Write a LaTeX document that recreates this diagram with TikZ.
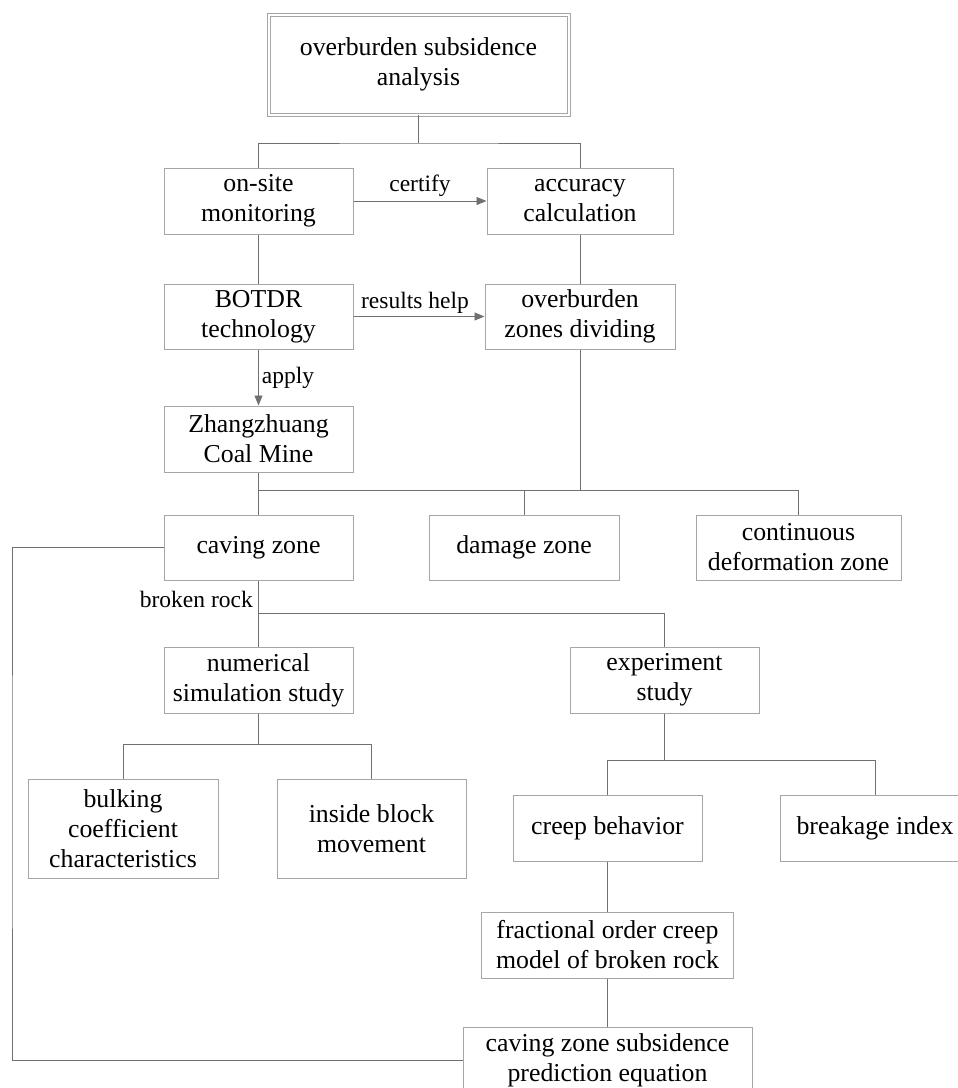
\documentclass[tikz,border=0pt]{standalone}
\usepackage{fontspec}
\setmainfont{Liberation Serif}
\usepackage{tikz}
\usetikzlibrary{positioning,calc,arrows.meta}

\definecolor{boxgray}{HTML}{A6A6A6}
\definecolor{linegray}{HTML}{707070}

\begin{document}
\begin{tikzpicture}[x=1pt,y=-1pt,
    box/.style={draw=boxgray,line width=1pt,minimum width=189,minimum height=66,inner sep=2pt,align=center,font=\fontsize{25.8}{30}\selectfont},
    link/.style={draw=linegray,line width=0.9pt},
    arr/.style={link,-{Triangle[length=10pt,width=8pt]}},
    tag/.style={inner sep=2pt,font=\fontsize{23.5}{28}\selectfont}]

   \useasboundingbox (0,0) rectangle (958,1088);

   \node[box,double=white,double distance=2pt,minimum width=300,minimum height=100] at (418.5,64.5) (top) {overburden subsidence\\analysis};

   \node[box] at (258.5,201) (onsite) {on-site\\monitoring};
   \node[box,minimum width=186] at (580,201) (accuracy) {accuracy\\calculation};
   \node[box,minimum height=65] at (258.5,316.5) (botdr) {BOTDR\\technology};
   \node[box,minimum width=190,minimum height=65] at (580,316.5) (zones) {overburden\\zones dividing};
   \node[box] at (258.5,439) (mine) {Zhangzhuang\\Coal Mine};

   \node[box,minimum height=65] at (258.5,547.5) (caving) {caving zone};
   \node[box,minimum width=190,minimum height=65] at (524,547.5) (damage) {damage zone};
   \node[box,minimum width=205,minimum height=65] at (798.5,547.5) (contin) {continuous\\deformation zone};

   \node[box] at (258.5,680) (numer) {numerical\\simulation study};
   \node[box] at (664.5,680) (exper) {experiment\\study};

   \node[box,minimum width=190,minimum height=99] at (123,828.5) (bulking) {bulking\\coefficient\\characteristics};
   \node[box,minimum height=99] at (371.5,828.5) (inside) {inside block\\movement};
   \node[box] at (607.5,828) (creep) {creep behavior};
   \node[box,minimum width=190] at (875,828) (breakage) {breakage index};

   \node[box,minimum width=252] at (607.5,945) (fraction) {fractional order creep\\model of broken rock};
   \node[box,minimum width=289] at (607.5,1060) (predict) {caving zone subsidence\\prediction equation};

   \node[tag,anchor=east] at (255,599) (broken) {broken rock};

   % bus lines
   \coordinate (b1) at (418.5,143);
   \coordinate (b2) at (258.5,490);
   \coordinate (b3) at (258.5,613);
   \coordinate (b4) at (258.5,744);
   \coordinate (b5) at (664.5,760);
   \coordinate (loop) at (12,800);

   \draw[link] (top) -- (b1);
   \draw[link] (onsite.north) |- (b1) -| (accuracy.north);
   \draw[link] (onsite) -- (botdr);
   \draw[link] (accuracy) -- (zones);
   \draw[arr] (onsite) -- (accuracy) node[tag,midway,above=2pt] {certify};
   \draw[arr] (botdr) -- (zones) node[tag,midway,above=1pt,xshift=-4pt] {results help};
   \draw[arr] (botdr) -- (mine) node[tag,midway,right=1pt] {apply};

   \draw[link] (mine) -- (caving);
   \draw[link] (b2) -| (contin.north);
   \draw[link] (zones.south) -- (zones.south |- b2);
   \draw[link] (damage.north) -- (damage.north |- b2);

   \draw[link] (caving) -- (numer);
   \draw[link] (b3) -| (exper.north);

   \draw[link] (numer) -- (b4);
   \draw[link] (bulking.north) |- (b4) -| (inside.north);
   \draw[link] (exper) -- (b5);
   \draw[link] (creep.north) |- (b5) -| (breakage.north);

   \draw[link] (creep) -- (fraction);
   \draw[link] (fraction) -- (predict);
   \draw[link] (caving.west) -| (loop) |- (predict.west);
\end{tikzpicture}
\end{document}
